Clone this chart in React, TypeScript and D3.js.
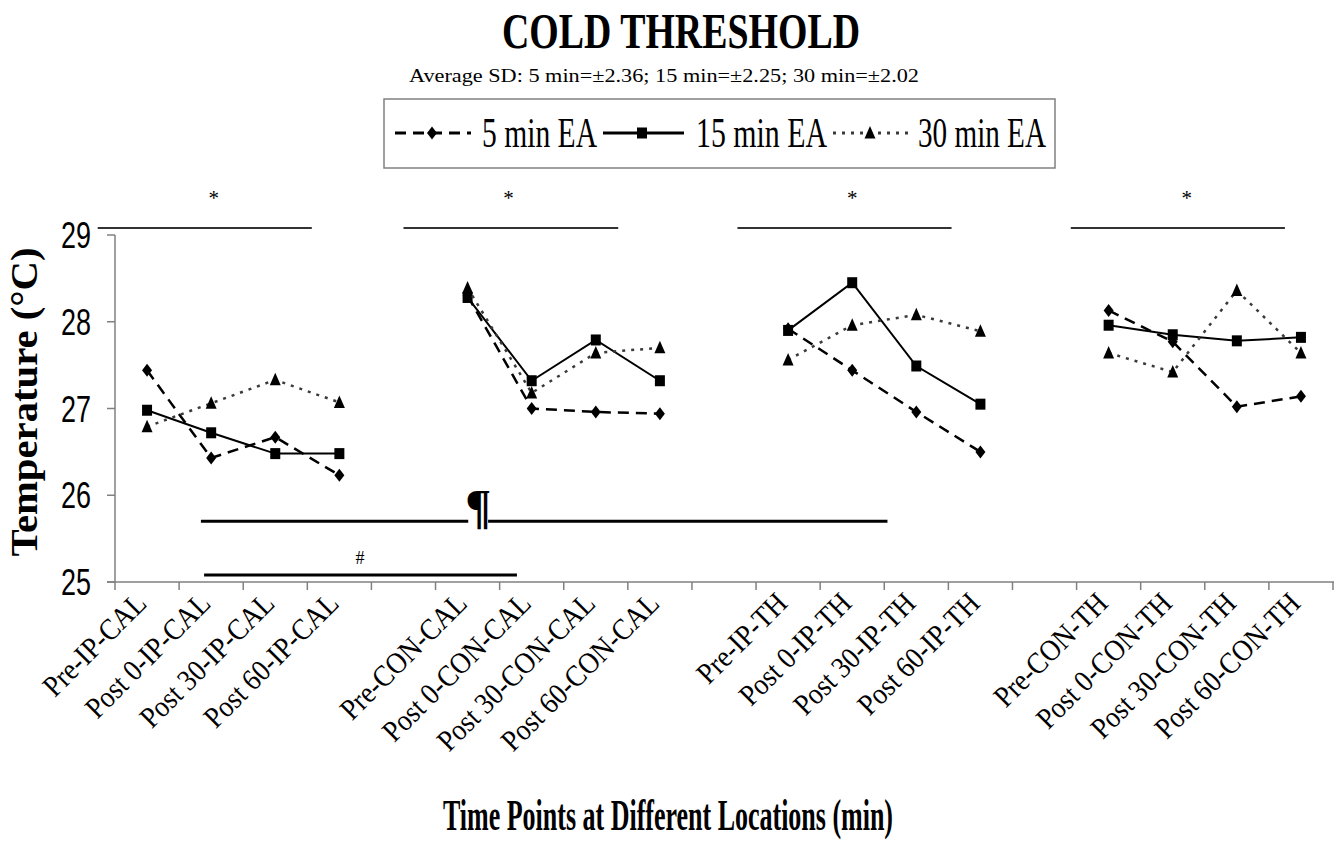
import React from "react";
import * as d3 from "d3";

const categories = [
  "Pre-IP-CAL", "Post 0-IP-CAL", "Post 30-IP-CAL", "Post 60-IP-CAL", "",
  "Pre-CON-CAL", "Post 0-CON-CAL", "Post 30-CON-CAL", "Post 60-CON-CAL", "",
  "Pre-IP-TH", "Post 0-IP-TH", "Post 30-IP-TH", "Post 60-IP-TH", "",
  "Pre-CON-TH", "Post 0-CON-TH", "Post 30-CON-TH", "Post 60-CON-TH",
];

const ea5: (number | null)[] = [27.44, 26.43, 26.67, 26.23, null, 28.3, 27.0, 26.96, 26.94, null, 27.92, 27.44, 26.96, 26.5, null, 28.13, 27.77, 27.02, 27.14];
const ea15: (number | null)[] = [26.98, 26.72, 26.48, 26.48, null, 28.28, 27.32, 27.79, 27.32, null, 27.9, 28.45, 27.49, 27.05, null, 27.96, 27.85, 27.78, 27.82];
const ea30: (number | null)[] = [26.79, 27.06, 27.33, 27.07, null, 28.39, 27.18, 27.64, 27.7, null, 27.56, 27.96, 28.08, 27.89, null, 27.64, 27.42, 28.36, 27.64];

const seriesNames = ["5 min EA", "15 min EA", "30 min EA"];
const yTicks = [25, 26, 27, 28, 29];

// significance annotations, in category units (x) and temperature units (y)
const starSpans = [[-0.27, 3.07], [4.5, 7.85], [9.71, 13.05], [14.91, 18.25]];
const starLabelX = [1.54, 6.14, 11.5, 16.72];
const starLineY = 29.08;
const pilcrowSpan = [1.34, 12.05];
const pilcrowGap = [5.51, 5.82];
const pilcrowY = 25.7;
const hashSpan = [1.39, 6.27];
const hashY = 25.08;

const W = 1334;
const H = 849;
const left = 115;
const right = 1333;
const top = 235;
const bottom = 582;

const serif = "'Liberation Serif', 'Times New Roman', serif";
const sans = "'Liberation Sans', Arial, sans-serif";

function Marker({ kind, x, y }: { kind: number; x: number; y: number }) {
  if (kind === 0) return <path d={`M${x},${y - 6.5}L${x + 5},${y}L${x},${y + 6.5}L${x - 5},${y}Z`} fill="#000" />;
  if (kind === 1) return <rect x={x - 5} y={y - 5.5} width={10} height={11} fill="#000" />;
  return <path d={`M${x},${y - 7}L${x + 5.5},${y + 5.5}L${x - 5.5},${y + 5.5}Z`} fill="#000" />;
}

const styles = [
  { stroke: "#000", width: 2.5, dash: "11,7" },
  { stroke: "#000", width: 2, dash: "none" },
  { stroke: "#3a3a3a", width: 2.5, dash: "3,6" },
];

export default function App() {
  const x = d3.scaleBand<number>().domain(d3.range(categories.length)).range([left, right]);
  const xu = d3.scaleLinear().domain([0, categories.length]).range([left, right]);
  const y = d3.scaleLinear().domain([25, 29]).range([bottom, top]);
  const cx = (i: number) => (x(i) as number) + x.bandwidth() / 2;

  const line = d3
    .line<number | null>()
    .defined((d) => d !== null)
    .x((_, i) => cx(i))
    .y((d) => y(d as number));

  const all = [ea5, ea15, ea30];
  const boundaries = d3.range(categories.length + 1).map((i) => xu(i));

  return (
    <svg width={W} height={H} style={{ position: "absolute", left: 0, top: 0, background: "#fff" }}>
      <rect width={W} height={H} fill="#fff" />
      {/* Title */}
      <text x={681} y={48} textAnchor="middle" fontFamily={serif} fontWeight="bold" fontSize={50} textLength={358} lengthAdjust="spacingAndGlyphs" fill="#000">
        COLD THRESHOLD
      </text>
      <text x={664} y={82} textAnchor="middle" fontFamily={serif} fontSize={19} textLength={510} lengthAdjust="spacingAndGlyphs" fill="#000">
        Average SD: 5 min=±2.36; 15 min=±2.25; 30 min=±2.02
      </text>

      {/* Legend */}
      <rect x={384} y={99} width={671} height={69} fill="#fff" stroke="#808080" strokeWidth={1.5} />
      {[
        { x1: 395, x2: 471, mx: 432, tx: 482, tw: 115 },
        { x1: 603, x2: 684, mx: 642, tx: 696, tw: 131 },
        { x1: 833, x2: 911, mx: 870, tx: 918, tw: 128 },
      ].map((l, k) => (
        <g key={k}>
          <line x1={l.x1} x2={l.x2} y1={133} y2={133} stroke={styles[k].stroke} strokeWidth={3} strokeDasharray={styles[k].dash} />
          <Marker kind={k} x={l.mx} y={133} />
          <text x={l.tx} y={147} fontFamily={serif} fontSize={42} textLength={l.tw} lengthAdjust="spacingAndGlyphs" fill="#000">
            {seriesNames[k]}
          </text>
        </g>
      ))}

      {/* Top significance */}
      {starSpans.map((s, k) => (
        <g key={k}>
          <line x1={xu(s[0])} x2={xu(s[1])} y1={y(starLineY)} y2={y(starLineY)} stroke="#333" strokeWidth={2} />
          <text x={xu(starLabelX[k])} y={205} textAnchor="middle" fontFamily={serif} fontSize={21} fill="#000">*</text>
        </g>
      ))}

      {/* Axes */}
      <line x1={left} x2={left} y1={top} y2={bottom} stroke="#808080" strokeWidth={1.5} />
      {yTicks.map((t) => (
        <g key={t}>
          <line x1={left - 8} x2={left} y1={y(t)} y2={y(t)} stroke="#808080" strokeWidth={1.5} />
          <text x={91} y={y(t) + 13} textAnchor="end" fontFamily={sans} fontSize={37} textLength={30} lengthAdjust="spacingAndGlyphs" fill="#000">
            {t}
          </text>
        </g>
      ))}
      <line x1={left - 8} x2={W} y1={bottom} y2={bottom} stroke="#808080" strokeWidth={1.5} />
      {boundaries.map((bx, i) => (
        <line key={i} x1={bx} x2={bx} y1={bottom} y2={bottom + 8} stroke="#808080" strokeWidth={1.5} />
      ))}
      {categories.map((c, i) =>
        c ? (
          <text key={i} transform={`translate(${cx(i) + 1},${605}) rotate(-45) scale(0.9,1)`} textAnchor="end" fontFamily={serif} fontSize={30} fill="#000">
            {c}
          </text>
        ) : null
      )}

      {/* Axis titles */}
      <text transform={`translate(37,402) rotate(-90)`} textAnchor="middle" fontFamily={serif} fontWeight="bold" fontSize={37} textLength={309} lengthAdjust="spacingAndGlyphs" fill="#000">
        Temperature (°C)
      </text>
      <text x={668} y={830} textAnchor="middle" fontFamily={serif} fontWeight="bold" fontSize={44} textLength={450} lengthAdjust="spacingAndGlyphs" fill="#000">
        Time Points at Different Locations (min)
      </text>

      {/* Bottom significance */}
      <line x1={xu(pilcrowSpan[0])} x2={xu(pilcrowGap[0])} y1={y(pilcrowY)} y2={y(pilcrowY)} stroke="#000" strokeWidth={3} />
      <line x1={xu(pilcrowGap[1])} x2={xu(pilcrowSpan[1])} y1={y(pilcrowY)} y2={y(pilcrowY)} stroke="#000" strokeWidth={3} />
      <text x={(xu(pilcrowGap[0]) + xu(pilcrowGap[1])) / 2} y={y(pilcrowY) + 2} textAnchor="middle" fontFamily={serif} fontWeight="bold" fontSize={48} fill="#000">¶</text>
      <line x1={xu(hashSpan[0])} x2={xu(hashSpan[1])} y1={y(hashY)} y2={y(hashY)} stroke="#000" strokeWidth={3} />
      <text x={360} y={564} textAnchor="middle" fontFamily={serif} fontSize={18} fill="#000">#</text>

      {/* Series */}
      {all.map((data, k) => (
        <g key={k}>
          <path d={line(data) || ""} fill="none" stroke={styles[k].stroke} strokeWidth={styles[k].width} strokeDasharray={styles[k].dash} />
          {data.map((v, i) => (v === null ? null : <Marker key={i} kind={k} x={cx(i)} y={y(v)} />))}
        </g>
      ))}
    </svg>
  );
}
